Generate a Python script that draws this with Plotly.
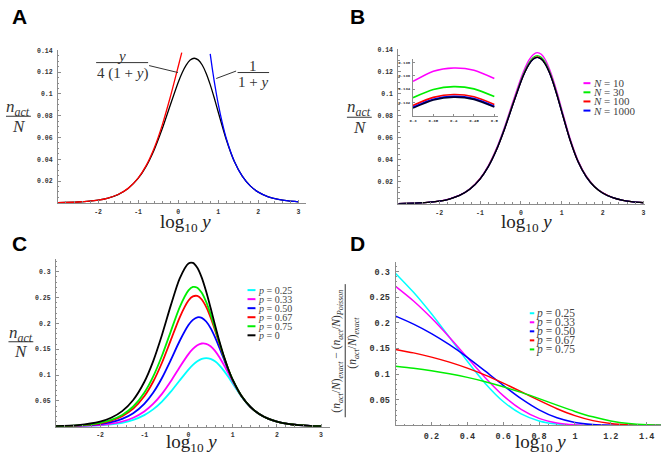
import plotly.graph_objects as go

W, H = 661, 456

# ------------------------------------------------------------------ data
LOG_Y = [-3, -2.5, -2, -1.75, -1.5, -1.25, -1, -0.8, -0.6, -0.4, -0.2, 0, 0.1, 0.2, 0.3,
         0.4, 0.5, 0.6, 0.7, 0.8, 0.9, 1.0, 1.2, 1.4, 1.6, 1.8, 2.0, 2.25, 2.5, 2.75, 3.0]

# panel A / limit curve (N -> infinity), also p = 0.25 in panel C
N_ACT_LIMIT = [0.00025, 0.00079, 0.00247, 0.00436, 0.00763, 0.01322, 0.02245, 0.03353, 0.04865,
               0.06776, 0.08947, 0.11060, 0.11953, 0.12656, 0.13113, 0.13278, 0.13128, 0.12656,
               0.11882, 0.10855, 0.09647, 0.08345, 0.05822, 0.03821, 0.02456, 0.01560, 0.00990,
               0.00559, 0.00315, 0.00178, 0.00100]

# panel A asymptotes
A_LEFT_X = [-3, -2.5, -2, -1.75, -1.5, -1.25, -1, -0.8, -0.6, -0.4, -0.2, 0, 0.05, 0.09]
A_LEFT_Y = [0.00025, 0.00079, 0.00248, 0.00437, 0.00766, 0.01331, 0.02273, 0.03420, 0.05019,
            0.07119, 0.09672, 0.12500, 0.13219, 0.13791]
A_RIGHT_X = [0.8, 0.85, 0.9, 0.95, 1.0, 1.1, 1.2, 1.4, 1.6, 1.8, 2.0, 2.25, 2.5, 2.75, 3.0]
A_RIGHT_Y = [0.13681, 0.12377, 0.11182, 0.10088, 0.09091, 0.07359, 0.05935, 0.03829, 0.02456,
             0.01560, 0.00990, 0.00559, 0.00315, 0.00178, 0.00100]

# panel B: finite N
B_N10 = [0.00026, 0.00081, 0.00254, 0.00449, 0.00786, 0.01362, 0.02312, 0.03454, 0.05011, 0.06979,
         0.09215, 0.11392, 0.12312, 0.13060, 0.13520, 0.13710, 0.13560, 0.13070, 0.12238, 0.11181,
         0.09936, 0.08595, 0.05997, 0.03936, 0.02530, 0.01607, 0.01020, 0.00576, 0.00324, 0.00183,
         0.00103]
B_N30 = [0.00025, 0.00080, 0.00250, 0.00441, 0.00772, 0.01338, 0.02272, 0.03393, 0.04923, 0.06857,
         0.09054, 0.11193, 0.12096, 0.12808, 0.13270, 0.13437, 0.13286, 0.12808, 0.12025, 0.10985,
         0.09763, 0.08445, 0.05892, 0.03867, 0.02485, 0.01579, 0.01002, 0.00566, 0.00319, 0.00180,
         0.00101]
B_N100 = [0.00025, 0.00079, 0.00248, 0.00437, 0.00765, 0.01326, 0.02252, 0.03363, 0.04880, 0.06796,
          0.08974, 0.11093, 0.11989, 0.12694, 0.13152, 0.13318, 0.13167, 0.12694, 0.11918, 0.10888,
          0.09676, 0.08370, 0.05839, 0.03832, 0.02463, 0.01565, 0.00993, 0.00561, 0.00316, 0.00179,
          0.00100]
B_N1000 = [0.00025, 0.00079, 0.00247, 0.00436, 0.00764, 0.01323, 0.02247, 0.03356, 0.04870, 0.06783,
           0.08956, 0.11071, 0.11965, 0.12669, 0.13126, 0.13291, 0.13141, 0.12669, 0.11894, 0.10866,
           0.09657, 0.08353, 0.05828, 0.03825, 0.02458, 0.01562, 0.00991, 0.00560, 0.00315, 0.00178,
           0.00100]
B_LEGEND = ["<i>N</i> = 10", "<i>N</i> = 30", "<i>N</i> = 100", "<i>N</i> = 1000"]

# panel B inset (zoom on the peak)
INSET_X = [0.30, 0.35, 0.40, 0.45, 0.50]
INSET_LIMIT = [0.13113, 0.13234, 0.13278, 0.13244, 0.13128]
INSET_N10 = [0.13515, 0.13670, 0.13718, 0.13685, 0.13560]
INSET_N30 = [0.13270, 0.13393, 0.13437, 0.13403, 0.13286]
INSET_N100 = [0.13153, 0.13274, 0.13318, 0.13284, 0.13168]
INSET_N1000 = [0.13126, 0.13247, 0.13291, 0.13257, 0.13141]

# panel C: different p
C_P025 = N_ACT_LIMIT
C_P033 = [0.00033, 0.00104, 0.00326, 0.00575, 0.01006, 0.01741, 0.02951, 0.04399, 0.06358, 0.08806,
          0.11526, 0.14054, 0.15048, 0.15756, 0.16103, 0.16045, 0.15563, 0.14679, 0.13452, 0.11975,
          0.10369, 0.08756, 0.05903, 0.03828, 0.02456, 0.01560, 0.00990, 0.00559, 0.00315, 0.00178,
          0.00100]
C_P050 = [0.00050, 0.00157, 0.00494, 0.00870, 0.01521, 0.02625, 0.04434, 0.06577, 0.09434, 0.12909,
          0.16588, 0.19673, 0.20679, 0.21172, 0.21075, 0.20365, 0.19082, 0.17333, 0.15276, 0.13097,
          0.10971, 0.09030, 0.05933, 0.03829, 0.02456, 0.01560, 0.00990, 0.00559, 0.00315, 0.00178,
          0.00100]
C_P067 = [0.00067, 0.00211, 0.00661, 0.01164, 0.02032, 0.03501, 0.05891, 0.08697, 0.12380, 0.16746,
          0.21137, 0.24415, 0.25223, 0.25309, 0.24616, 0.23183, 0.21138, 0.18682, 0.16055, 0.13481,
          0.11127, 0.09080, 0.05935, 0.03829, 0.02456, 0.01560, 0.00990, 0.00559, 0.00315, 0.00178,
          0.00100]
C_P075 = [0.00075, 0.00236, 0.00740, 0.01302, 0.02272, 0.03910, 0.06569, 0.09675, 0.13724, 0.18460,
          0.23116, 0.26382, 0.27049, 0.26901, 0.25910, 0.24147, 0.21783, 0.19062, 0.16246, 0.13560,
          0.11153, 0.09086, 0.05935, 0.03829, 0.02456, 0.01560, 0.00990, 0.00559, 0.00315, 0.00178,
          0.00100]
C_P0 = [0.00100, 0.00315, 0.00985, 0.01732, 0.03017, 0.05177, 0.08651, 0.12652, 0.17754, 0.23488,
        0.28687, 0.31606, 0.31698, 0.30756, 0.28846, 0.26165, 0.23008, 0.19701, 0.16523, 0.13656,
        0.11178, 0.09091, 0.05935, 0.03829, 0.02456, 0.01560, 0.00990, 0.00559, 0.00315, 0.00178,
        0.00100]
C_LEGEND = ["<i>p</i> = 0.25", "<i>p</i> = 0.33", "<i>p</i> = 0.50", "<i>p</i> = 0.67",
            "<i>p</i> = 0.75", "<i>p</i> = 0"]

# panel D: relative deviation exact vs Poisson
D_X = [0, 0.1, 0.2, 0.3, 0.4, 0.5, 0.6, 0.7, 0.8, 0.9, 1.0, 1.1, 1.2, 1.3, 1.4, 1.5]
D_P025 = [0.2965, 0.2597, 0.2177, 0.1718, 0.1251, 0.0819, 0.0467, 0.0224, 0.0087, 0.0026, 0.0006,
          0.0001, 0.0, 0.0, 0.0, 0.0]
D_P033 = [0.2712, 0.2427, 0.2094, 0.1720, 0.1323, 0.0930, 0.0580, 0.0311, 0.0137, 0.0047, 0.0012,
          0.0002, 0.0, 0.0, 0.0, 0.0]
D_P050 = [0.2131, 0.1976, 0.1791, 0.1574, 0.1328, 0.1058, 0.0782, 0.0522, 0.0304, 0.0148, 0.0058,
          0.0017, 0.0003, 0.0, 0.0, 0.0]
D_P067 = [0.1482, 0.1415, 0.1332, 0.1234, 0.1117, 0.0980, 0.0825, 0.0658, 0.0487, 0.0325, 0.0190,
          0.0093, 0.0036, 0.0010, 0.0002, 0.0]
D_P075 = [0.1152, 0.1113, 0.1066, 0.1007, 0.0937, 0.0853, 0.0755, 0.0644, 0.0522, 0.0395, 0.0273,
          0.0167, 0.0087, 0.0036, 0.0011, 0.0003]
D_LEGEND = C_LEGEND[:5]

# tick labels
LOG_TICKS = [-2, -1, 0, 1, 2, 3]
LOG_TICKTEXT = ["-2", "-1", "0", "1", "2", "3"]
AB_YTICKS = [0.02, 0.04, 0.06, 0.08, 0.1, 0.12, 0.14]
AB_YTICKTEXT = ["0.02", "0.04", "0.06", "0.08", "0.1", "0.12", "0.14"]
CD_YTICKS = [0.05, 0.1, 0.15, 0.2, 0.25, 0.3]
CD_YTICKTEXT = ["0.05", "0.1", "0.15", "0.2", "0.25", "0.3"]
D_XTICKS = [0.2, 0.4, 0.6, 0.8, 1.0, 1.2, 1.4]
D_XTICKTEXT = ["0.2", "0.4", "0.6", "0.8", "1", "1.2", "1.4"]
INSET_XTICKS = [0.3, 0.35, 0.4, 0.45, 0.5]
INSET_XTICKTEXT = ["0.3", "0.35", "0.4", "0.45", "0.5"]
INSET_YTICKS = [0.132, 0.134, 0.136, 0.138]
INSET_YTICKTEXT = ["0.132", "0.134", "0.136", "0.138"]

# ------------------------------------------------------------------ styling
MAG, GRN, RED, BLU, CYA, BLK = "#ff00ff", "#00ee00", "#ff0000", "#0000ff", "#00ffff", "#000000"
AXC = "#8c8c8c"
TXT = "#333333"
SERIF = "Liberation Serif"
MONO = "Liberation Mono"
SANS = "Liberation Sans"


def px_x(p):
    return p / W


def px_y(p):
    return 1 - p / H


fig = go.Figure()


def line(x, y, color, width, xa, ya):
    fig.add_trace(go.Scatter(x=x, y=y, mode="lines", xaxis=xa, yaxis=ya, showlegend=False,
                             hoverinfo="skip",
                             line=dict(color=color, width=width, shape="spline", smoothing=0.7)))


# panel A
line(LOG_Y, N_ACT_LIMIT, BLK, 1.3, "x", "y")
line(A_LEFT_X, A_LEFT_Y, RED, 1.3, "x", "y")
line(A_RIGHT_X, A_RIGHT_Y, BLU, 1.3, "x", "y")
# panel B
for s, c in [(B_N10, MAG), (B_N30, GRN), (B_N100, RED), (B_N1000, BLU), (N_ACT_LIMIT, BLK)]:
    line(LOG_Y, s, c, 1.3, "x2", "y2")
# inset
for s, c in [(INSET_N10, MAG), (INSET_N30, GRN), (INSET_N100, RED), (INSET_N1000, BLU),
             (INSET_LIMIT, "#000033")]:
    line(INSET_X, s, c, 1.6, "x5", "y5")
# panel C
for s, c in [(C_P025, CYA), (C_P033, MAG), (C_P050, BLU), (C_P067, RED), (C_P075, GRN), (C_P0, BLK)]:
    line(LOG_Y, s, c, 1.8, "x3", "y3")
# panel D
for s, c in [(D_P025, CYA), (D_P033, MAG), (D_P050, BLU), (D_P067, RED), (D_P075, GRN)]:
    line(D_X, s, c, 1.5, "x4", "y4")


def axis(dom, rng, tv, tt, anchor, fsize, mtick0=None, mdtick=None, ticklen=3, standoff=3):
    d = dict(domain=dom, range=rng, anchor=anchor, showline=True, linecolor=AXC, linewidth=1,
             showgrid=False, zeroline=False, ticks="inside", ticklen=ticklen, tickwidth=1,
             tickcolor=AXC, tickmode="array", tickvals=tv, ticktext=tt,
             tickfont=dict(family=MONO, size=fsize, color=TXT, weight="bold"),
             ticklabelstandoff=standoff, fixedrange=True)
    if mdtick is not None:
        d["minor"] = dict(ticks="inside", ticklen=1.5, tickwidth=1, tickcolor=AXC,
                          tickmode="linear", tick0=mtick0, dtick=mdtick)
    return d


layout = dict(width=W, height=H, margin=dict(l=0, r=0, t=0, b=0), paper_bgcolor="white",
              plot_bgcolor="rgba(0,0,0,0)", showlegend=False)

# A
layout["xaxis"] = axis([px_x(54.3), px_x(304.2)], [-3, 3.2], LOG_TICKS, LOG_TICKTEXT, "y", 6.5, -3, 0.2,
                       standoff=2)
layout["yaxis"] = axis([px_y(201.2), px_y(47.7)], [0, 0.14], AB_YTICKS, AB_YTICKTEXT, "x", 6.5, 0, 0.005)
# B
layout["xaxis2"] = axis([px_x(396.7), px_x(645.4)], [-3, 3.05], LOG_TICKS, LOG_TICKTEXT, "y2", 6.5, -3, 0.2,
                        standoff=2)
layout["yaxis2"] = axis([px_y(202.2), px_y(46.8)], [0, 0.14], AB_YTICKS, AB_YTICKTEXT, "x2", 6.5, 0, 0.005)
# C
layout["xaxis3"] = axis([px_x(52.2), px_x(327.9)], [-3, 3.2], LOG_TICKS, LOG_TICKTEXT, "y3", 6.5, -3, 0.2,
                        standoff=2)
layout["yaxis3"] = axis([px_y(426.5), px_y(257.5)], [0, 0.325], CD_YTICKS, CD_YTICKTEXT, "x3", 6.5, 0, 0.01)
# D
layout["xaxis4"] = axis([px_x(394), 1.0], [0, 1.48], D_XTICKS, D_XTICKTEXT, "y4", 8.5, 0, 0.05,
                        standoff=2)
layout["yaxis4"] = axis([px_y(425.2), px_y(261.1)], [0, 0.318], CD_YTICKS, CD_YTICKTEXT, "x4", 8.5, 0, 0.01)
# inset
layout["xaxis5"] = axis([px_x(411.5), px_x(497.4)], [0.3, 0.51], INSET_XTICKS, INSET_XTICKTEXT, "y5", 4,
                        ticklen=2, standoff=1)
layout["yaxis5"] = axis([px_y(113.3), px_y(56.6)], [0.130, 0.1385], INSET_YTICKS, INSET_YTICKTEXT, "x5", 4,
                        ticklen=2, standoff=1)

ann = []
shapes = []


def text(x, y, s, size, family=SERIF, color=TXT, xanchor="center", yanchor="middle", angle=0):
    ann.append(dict(x=px_x(x), y=px_y(y), xref="paper", yref="paper", text=s, showarrow=False,
                    font=dict(family=family, size=size, color=color), xanchor=xanchor,
                    yanchor=yanchor, textangle=angle, borderpad=0))


def seg(x0, y0, x1, y1, color=TXT, width=1):
    shapes.append(dict(type="line", xref="paper", yref="paper", x0=px_x(x0), y0=px_y(y0),
                       x1=px_x(x1), y1=px_y(y1), line=dict(color=color, width=width)))


# panel letters
for lab, x, y in [("A", 7, 14), ("B", 347, 14), ("C", 7, 242), ("D", 347, 242)]:
    ann.append(dict(x=px_x(x), y=px_y(y), xref="paper", yref="paper", text="<b>%s</b>" % lab,
                    showarrow=False, font=dict(family=SANS, size=21, color="black"),
                    xanchor="left", yanchor="middle", borderpad=0))

# y-axis fraction labels n_act / N
NUM = "<i>n</i><sub><i>act</i></sub>"
for cx, ynum, yline, yden in [(14.5, 106, 114, 124), (357.5, 106, 115, 125), (17, 333, 341, 351)]:
    text(cx, ynum, NUM, 17)
    seg(cx - 12.5, yline, cx + 12.5, yline, TXT, 1)
    text(cx + 0.5, yden, "<i>N</i>", 17)

# x-axis labels
XLAB = "log<sub>10</sub> <i>y</i>"
for cx, cy in [(183, 221.5), (526, 221.5), (189, 443), (540, 443)]:
    text(cx, cy, XLAB, 19, color="#222222")

# panel A formula labels
text(118.5, 53, "<i>y</i>", 15)
seg(92.7, 60, 145, 60, TXT, 1)
text(119, 71, "4 (1 + <i>y</i>)", 15)
seg(146, 63, 175, 70, TXT, 1)
text(251, 63, "1", 15)
seg(235, 70, 266.7, 70, TXT, 1)
text(251, 79.5, "1 + <i>y</i>", 15)
seg(233.5, 68.5, 213.5, 76, TXT, 1)

# panel D y label (rotated fraction)
DNUM = ("(<i>n</i><sub><i>act</i></sub>/<i>N</i>)<sub><i>exact</i></sub> \u2212 "
        "(<i>n</i><sub><i>act</i></sub>/<i>N</i>)<sub><i>Poisson</i></sub>")
DDEN = "(<i>n</i><sub><i>act</i></sub>/<i>N</i>)<sub><i>exact</i></sub>"
text(335, 350, DNUM, 11.5, angle=-90)
seg(343.3, 283, 343.3, 417, TXT, 1)
text(351, 342, DDEN, 11.5, angle=-90)

# legends
for i, (lab, c) in enumerate(zip(B_LEGEND, [MAG, GRN, RED, BLU])):
    y = 80.7 + 9.2 * i
    seg(583, y, 590, y, c, 2)
    text(591.5, y, lab, 11, xanchor="left", color="#444444")
for i, (lab, c) in enumerate(zip(C_LEGEND, [CYA, MAG, BLU, RED, GRN, BLK])):
    y = 289 + 9.1 * i
    seg(245, y, 253, y, c, 2)
    text(255, y, lab, 10, xanchor="left", color="#444444")
for i, (lab, c) in enumerate(zip(D_LEGEND, [CYA, MAG, BLU, RED, GRN])):
    y = 312.3 + 9.1 * i
    seg(529, y, 533.5, y, c, 2)
    text(534.5, y, lab, 11.5, xanchor="left", color="#444444")

layout["annotations"] = ann
layout["shapes"] = shapes
fig.update_layout(**layout)
fig.write_html("out.html", config={"displayModeBar": False},
               post_script="document.body.style.margin='0';document.body.style.padding='0';")
